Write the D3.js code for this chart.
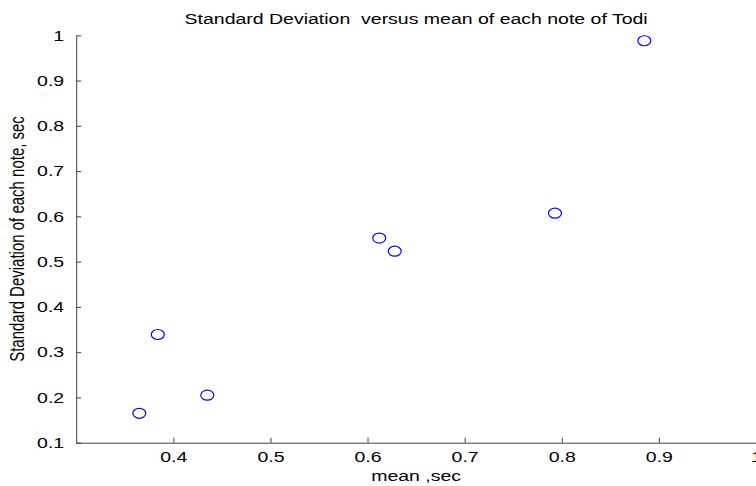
<!DOCTYPE html>
<html>
<head>
<meta charset="utf-8">
<script src="https://cdn.jsdelivr.net/npm/d3@7"></script>
<style>
  body { margin: 0; background: #fff; }
  svg { display: block; font-family: "Liberation Sans", Arial, sans-serif; }
  .axis path, .axis line { stroke: #404040; }
  .axis text { fill: #000; font-size: 15px; }
</style>
</head>
<body>
<svg id="drawing" width="756" height="486"></svg>
<script>
const meanSec = [0.365, 0.384, 0.435, 0.612, 0.628, 0.793, 0.885];
const stdSec = [0.165, 0.339, 0.205, 0.552, 0.523, 0.607, 0.988];
const xTicks = [0.4, 0.5, 0.6, 0.7, 0.8, 0.9, 1.0];
const xTickLabels = ["0.4", "0.5", "0.6", "0.7", "0.8", "0.9", "1"];
const yTicks = [0.1, 0.2, 0.3, 0.4, 0.5, 0.6, 0.7, 0.8, 0.9, 1.0];
const yTickLabels = ["0.1", "0.2", "0.3", "0.4", "0.5", "0.6", "0.7", "0.8", "0.9", "1"];

const svg = d3.select("svg#drawing");
// the original figure is stretched sideways, text too
const stretch = 1.3;

const x = d3.scaleLinear().domain([0.3, 1.0]).range([76.2, 756]);
const y = d3.scaleLinear().domain([0.1, 1.0]).range([442.7, 35.3]);

const xAxis = d3.axisBottom(x)
  .tickValues(xTicks)
  .tickFormat((d, i) => xTickLabels[i])
  .tickSizeInner(-5)
  .tickSizeOuter(0)
  .tickPadding(9);

const yAxis = d3.axisLeft(y)
  .tickValues(yTicks)
  .tickFormat((d, i) => yTickLabels[i])
  .tickSizeInner(-5)
  .tickSizeOuter(0)
  .tickPadding(12);

const gx = svg.append("g")
  .attr("class", "axis")
  .attr("transform", `translate(0,${y(0.1)})`)
  .call(xAxis);
gx.selectAll("text").attr("transform", `scale(${stretch},1)`);

const gy = svg.append("g")
  .attr("class", "axis")
  .attr("transform", `translate(${x(0.3)},0)`)
  .call(yAxis);
gy.selectAll("text")
  .attr("x", -12 / stretch)
  .attr("transform", `scale(${stretch},1)`);

svg.selectAll(".pt")
  .data(meanSec.map((m, i) => ({ m, s: stdSec[i] })))
  .enter()
  .append("ellipse")
  .attr("class", "pt")
  .attr("cx", d => x(d.m))
  .attr("cy", d => y(d.s))
  .attr("rx", 6.5)
  .attr("ry", 5)
  .attr("fill", "none")
  .attr("stroke", "#0000ff")
  .attr("stroke-width", 1.2);

const cx = (x(0.3) + x(1.0)) / 2;

svg.append("text")
  .attr("transform", `translate(${cx},24) scale(${stretch},1)`)
  .attr("text-anchor", "middle")
  .attr("font-size", 15)
  .style("white-space", "pre")
  .attr("xml:space", "preserve")
  .text("Standard Deviation  versus mean of each note of Todi");

svg.append("text")
  .attr("transform", `translate(${cx},481) scale(${stretch},1)`)
  .attr("text-anchor", "middle")
  .attr("font-size", 15)
  .text("mean ,sec");

svg.append("text")
  .attr("transform", `translate(24,${(y(0.1) + y(1.0)) / 2}) scale(${stretch},1) rotate(-90)`)
  .attr("text-anchor", "middle")
  .attr("font-size", 15)
  .text("Standard Deviation of each note, sec");
</script>
</body>
</html>
